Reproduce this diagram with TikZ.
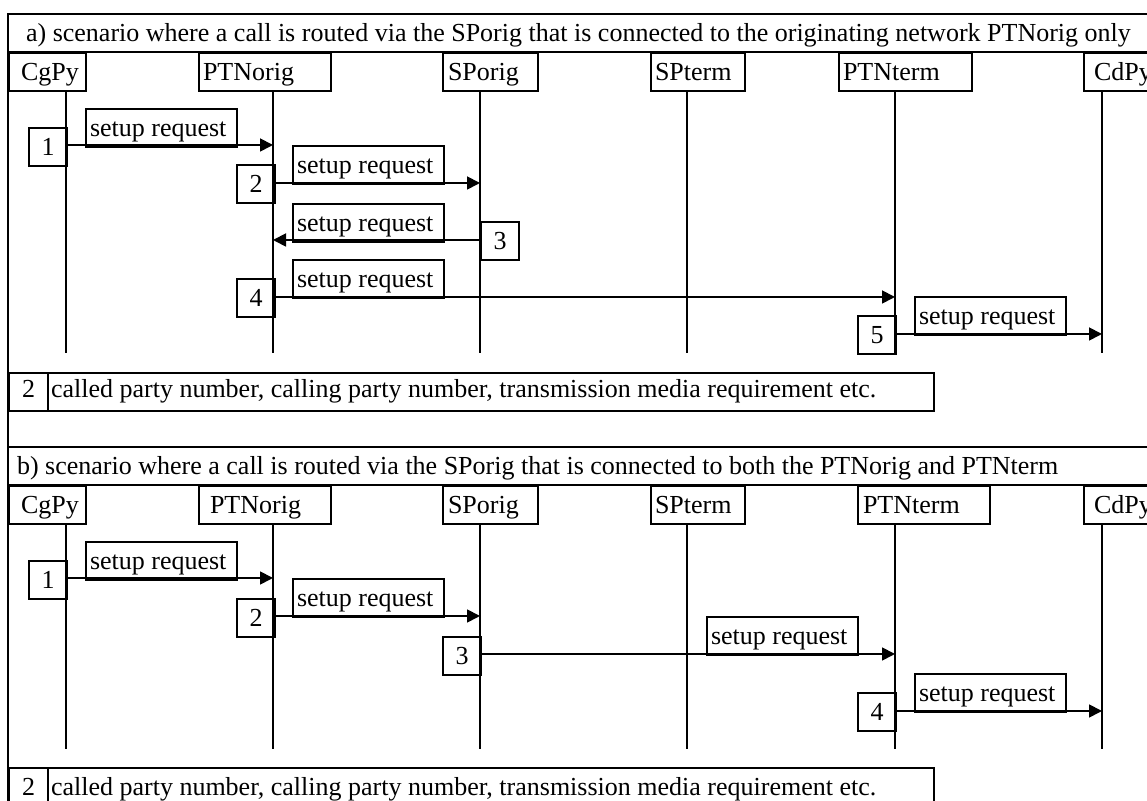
\documentclass[tikz,border=0pt]{standalone}
\usepackage{fontspec}
\setmainfont{Liberation Serif}
\usetikzlibrary{arrows.meta}
\newlength{\px}\setlength{\px}{0.5pt}
\newcommand{\hd}[3]{\makebox[#1\px][l]{\hspace*{#2\px}#3}}
\begin{document}
\begin{tikzpicture}[x=0.5pt, y=-0.5pt,
  every node/.style={font=\fontsize{13}{15}\selectfont},
  frame/.style={line width=1.1pt},
  bx/.style={draw, line width=1pt, rectangle, inner sep=0pt, anchor=north west,
             text height=10pt, text depth=1pt, minimum height=38\px},
  legbx/.style={bx, text height=7pt, text depth=1pt},
  lifeline/.style={line width=1pt},
  msg/.style={line width=0.9pt, -{Triangle[length=6.5pt,width=6.5pt]}},
]
\useasboundingbox (0,0) rectangle (1147,801);
\clip (0,0) rectangle (1147,801);

% ---------- frame ----------
\draw[frame] (1170,14) -- (8,14) -- (8,830);
\draw[frame] (8,52) -- (1170,52);
\draw[frame] (8,447) -- (1170,447);
\draw[frame] (8,485) -- (1170,485);

% ================= section a =================
\node[anchor=base west] (ta) at (19,42) {a) scenario where a call is routed via the SPorig that is connected to the originating network PTNorig only};

\node[bx, minimum width=77\px]  (aCg) at (8,52)    {\hd{77}{12}{CgPy}};
\node[bx, minimum width=132\px] (aPo) at (198,52)  {\hd{132}{4}{PTNorig}};
\node[bx, minimum width=95\px]  (aSo) at (442,52)  {\hd{95}{5}{SPorig}};
\node[bx, minimum width=94\px]  (aSt) at (650,52)  {\hd{94}{4}{SPterm}};
\node[bx, minimum width=133\px] (aPt) at (838,52)  {\hd{133}{4}{PTNterm}};
\node[bx, minimum width=120\px] (aCd) at (1083,52) {\hd{120}{10}{CdPy}};

\coordinate (la1) at (66,353);
\coordinate (la2) at (273,353);
\coordinate (la3) at (480,353);
\coordinate (la4) at (687,353);
\coordinate (la5) at (895,353);
\coordinate (la6) at (1102,353);
\draw[lifeline] (aCg.south -| la1) -- (la1);
\draw[lifeline] (aPo.south -| la2) -- (la2);
\draw[lifeline] (aSo.south -| la3) -- (la3);
\draw[lifeline] (aSt.south -| la4) -- (la4);
\draw[lifeline] (aPt.south -| la5) -- (la5);
\draw[lifeline] (aCd.south -| la6) -- (la6);

% message 1
\coordinate (a1s) at (66,145); \coordinate (a1e) at (273,145);
\draw[msg] (a1s) -- (a1e);
\node[bx, minimum width=38\px]  (an1) at (28,127) {1};
\node[bx, minimum width=151\px] (al1) at (85,108) {\hd{151}{4}{setup request}};
% message 2
\coordinate (a2s) at (273,183); \coordinate (a2e) at (480,183);
\draw[msg] (a2s) -- (a2e);
\node[bx, minimum width=38\px]  (an2) at (236,164) {2};
\node[bx, minimum width=151\px] (al2) at (292,145) {\hd{151}{4}{setup request}};
% message 3
\coordinate (a3s) at (480,240); \coordinate (a3e) at (273,240);
\draw[msg] (a3s) -- (a3e);
\node[bx, minimum width=38\px]  (an3) at (480,221) {3};
\node[bx, minimum width=151\px] (al3) at (292,203) {\hd{151}{4}{setup request}};
% message 4
\coordinate (a4s) at (273,297); \coordinate (a4e) at (895,297);
\draw[msg] (a4s) -- (a4e);
\node[bx, minimum width=38\px]  (an4) at (236,278) {4};
\node[bx, minimum width=151\px] (al4) at (292,259) {\hd{151}{4}{setup request}};
% message 5
\coordinate (a5s) at (895,334); \coordinate (a5e) at (1102,334);
\draw[msg] (a5s) -- (a5e);
\node[bx, minimum width=38\px]  (an5) at (857,315) {5};
\node[bx, minimum width=151\px] (al5) at (914,296) {\hd{151}{4}{setup request}};

% legend a
\node[legbx, minimum width=39\px]  (aLn) at (8,372)  {2};
\node[legbx, minimum width=886\px] (aLt) at (47,372) {\hd{886}{3}{called party number, calling party number, transmission media requirement etc.}};

% ================= section b =================
\node[anchor=base west] (tb) at (10,475) {b) scenario where a call is routed via the SPorig that is connected to both the PTNorig and PTNterm};

\node[bx, minimum width=77\px]  (bCg) at (8,485)    {\hd{77}{12}{CgPy}};
\node[bx, minimum width=132\px] (bPo) at (198,485)  {\hd{132}{11}{PTNorig}};
\node[bx, minimum width=95\px]  (bSo) at (442,485)  {\hd{95}{5}{SPorig}};
\node[bx, minimum width=94\px]  (bSt) at (650,485)  {\hd{94}{4}{SPterm}};
\node[bx, minimum width=132\px] (bPt) at (857,485)  {\hd{132}{5}{PTNterm}};
\node[bx, minimum width=120\px] (bCd) at (1083,485) {\hd{120}{10}{CdPy}};

\coordinate (lb1) at (66,749);
\coordinate (lb2) at (273,749);
\coordinate (lb3) at (480,749);
\coordinate (lb4) at (687,749);
\coordinate (lb5) at (895,749);
\coordinate (lb6) at (1102,749);
\draw[lifeline] (bCg.south -| lb1) -- (lb1);
\draw[lifeline] (bPo.south -| lb2) -- (lb2);
\draw[lifeline] (bSo.south -| lb3) -- (lb3);
\draw[lifeline] (bSt.south -| lb4) -- (lb4);
\draw[lifeline] (bPt.south -| lb5) -- (lb5);
\draw[lifeline] (bCd.south -| lb6) -- (lb6);

% message 1
\coordinate (b1s) at (66,578); \coordinate (b1e) at (273,578);
\draw[msg] (b1s) -- (b1e);
\node[bx, minimum width=38\px]  (bn1) at (28,560) {1};
\node[bx, minimum width=151\px] (bl1) at (85,541) {\hd{151}{4}{setup request}};
% message 2
\coordinate (b2s) at (273,616); \coordinate (b2e) at (480,616);
\draw[msg] (b2s) -- (b2e);
\node[bx, minimum width=38\px]  (bn2) at (236,598) {2};
\node[bx, minimum width=151\px] (bl2) at (292,578) {\hd{151}{4}{setup request}};
% message 3
\coordinate (b3s) at (480,654); \coordinate (b3e) at (895,654);
\draw[msg] (b3s) -- (b3e);
\node[bx, minimum width=38\px]  (bn3) at (442,636) {3};
\node[bx, minimum width=151\px] (bl3) at (706,616) {\hd{151}{4}{setup request}};
% message 4
\coordinate (b4s) at (895,711); \coordinate (b4e) at (1102,711);
\draw[msg] (b4s) -- (b4e);
\node[bx, minimum width=38\px]  (bn4) at (857,692) {4};
\node[bx, minimum width=151\px] (bl4) at (914,673) {\hd{151}{4}{setup request}};

% legend b
\node[bx, minimum width=39\px]  (bLn) at (8,767)  {2};
\node[bx, minimum width=886\px] (bLt) at (47,767) {\hd{886}{3}{called party number, calling party number, transmission media requirement etc.}};
\end{tikzpicture}
\end{document}
